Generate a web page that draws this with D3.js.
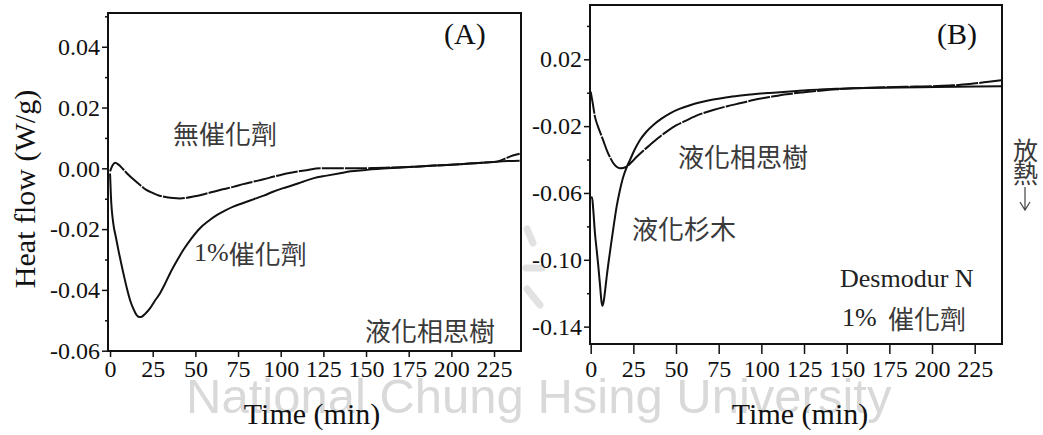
<!DOCTYPE html>
<html>
<head>
<meta charset="utf-8" />
<title>Heat flow</title>
<script src="https://cdn.jsdelivr.net/npm/d3@7"></script>
<style>
    body { margin: 0; background: #fff; overflow: hidden; }
    .serif { font-family: "Liberation Serif", "Times New Roman", serif; fill: #111; }
    .cjk { font-family: "Noto Sans CJK TC", "Noto Sans CJK SC", sans-serif; fill: #3a3a3a; }
</style>
</head>
<body>
<div id="chart"></div>
<script>
    // 時間刻度 (min)
    var timeTicks = [0, 25, 50, 75, 100, 125, 150, 175, 200, 225];

    // (A) 刻度
    var yTicksA = [-0.06, -0.04, -0.02, 0.00, 0.02, 0.04];
    var yLabelsA = ["-0.06", "-0.04", "-0.02", "0.00", "0.02", "0.04"];
    var yMinorA = [-0.05, -0.03, -0.01, 0.01, 0.03, 0.05];

    // (B) 刻度
    var yTicksB = [-0.14, -0.10, -0.06, -0.02, 0.02];
    var yLabelsB = ["-0.14", "-0.10", "-0.06", "-0.02", "0.02"];
    var yMinorB = [-0.12, -0.08, -0.04, 0.00, 0.04];

    // (A) 無催化劑  [time, heat flow]
    var noCatalystA = [[0, -0.001], [1.5, 0.001], [3, 0.0018], [5, 0.0012], [7.5, -0.0002], [10, -0.0017],
        [14, -0.0038], [17.6, -0.0055], [21, -0.007], [25.4, -0.0082], [29, -0.009], [33.2, -0.0095],
        [37, -0.0098], [41, -0.0099], [45, -0.0097], [48.8, -0.0093], [55, -0.0085], [60.5, -0.0077],
        [66, -0.0069], [72.2, -0.0061], [78, -0.0052], [84, -0.0044], [90, -0.0036], [95.5, -0.0028],
        [101, -0.002], [107.4, -0.0013], [115, -0.0006], [123, 0.0], [133, 0.0], [144.5, 0.0],
        [155, 0.0001], [165, 0.0003], [177.7, 0.0005], [190, 0.0009], [207, 0.0014], [218, 0.0018],
        [226.6, 0.0022], [232, 0.0033], [236, 0.0042], [240, 0.0048]];

    // (A) 1%催化劑
    var catalystA = [[0, -0.0017], [0.5, -0.009], [1.9, -0.0181], [3.4, -0.0226], [4.9, -0.0269],
        [7.8, -0.0345], [10, -0.0398], [11.7, -0.0433], [13.5, -0.046], [15.6, -0.0483], [17, -0.0489],
        [18.6, -0.0488], [20.5, -0.0479], [23.4, -0.0461], [26, -0.0438], [29.3, -0.0411], [32, -0.0382],
        [35.2, -0.0345], [39, -0.0306], [42.9, -0.0269], [47.5, -0.0232], [52.7, -0.0197], [57.5, -0.0174],
        [62.5, -0.0154], [67, -0.014], [72.2, -0.0126], [78, -0.0114], [84, -0.0102], [90, -0.009],
        [95.5, -0.0077], [101, -0.0066], [107.4, -0.0055], [113, -0.0044], [119, -0.0033], [127, -0.0024],
        [134.8, -0.0016], [141, -0.001], [148.4, -0.0006], [160, -0.0001], [177.7, 0.0005], [190, 0.0009],
        [207, 0.0014], [218, 0.0018], [226.6, 0.0022], [233, 0.0024], [240, 0.0025]];

    // (B) 液化相思樹
    var acaciaB = [[0, 0.0006], [1, -0.005], [2.5, -0.0143], [4, -0.0195], [5.4, -0.0233], [7.5, -0.029],
        [9.4, -0.0343], [11.5, -0.039], [13.3, -0.0422], [15.2, -0.0443], [17.2, -0.0452], [19, -0.0451],
        [21, -0.0443], [24, -0.0415], [27, -0.0383], [30.5, -0.035], [34.7, -0.0313], [39.5, -0.0271],
        [44.5, -0.0233], [50, -0.0196], [56.2, -0.0165], [63, -0.0133], [71.8, -0.0103], [80, -0.0081],
        [88, -0.0062], [95.3, -0.0044], [105, -0.0026], [114.8, -0.0009], [124, 0.0002], [134.4, 0.0012],
        [144, 0.002], [153.9, 0.0026], [163, 0.003], [173.4, 0.0033], [190, 0.0037], [202.7, 0.004],
        [212, 0.0044], [222, 0.0052], [232, 0.0064], [241, 0.0076]];

    // (B) 液化杉木
    var firB = [[0, -0.063], [0.8, -0.0625], [1.5, -0.07], [2.5, -0.0841], [3.5, -0.094], [4.5, -0.1041],
        [5.5, -0.1155], [6.4, -0.1255], [6.9, -0.1275], [7.6, -0.125], [8.5, -0.118], [9.4, -0.11],
        [10.8, -0.099], [12.3, -0.0881], [13.8, -0.0775], [15.2, -0.0682], [17, -0.059], [19.1, -0.0503],
        [21, -0.0448], [23, -0.0403], [25.8, -0.034], [28.9, -0.0283], [32.5, -0.0235], [36.7, -0.0193],
        [41.5, -0.0155], [46.5, -0.0123], [52, -0.0097], [58.2, -0.0075], [65, -0.0056], [71.8, -0.0041],
        [80, -0.0027], [88, -0.0017], [95.3, -0.0009], [105, -0.0001], [114.8, 0.0006], [124, 0.0013],
        [134.4, 0.002], [144, 0.0023], [153.9, 0.0026], [170, 0.003], [193, 0.0033], [215, 0.0036],
        [241, 0.0039]];

    var W = 1043, H = 435;
    var SERIF = "'Liberation Serif', 'Times New Roman', serif";
    var svg = d3.select("#chart").append("svg")
        .attr("width", W).attr("height", H);

    // 浮水印 (畫在最底層)
    svg.append("text")
        .attr("x", 186).attr("y", 413)
        .style("font-family", "'Liberation Sans', Arial, sans-serif")
        .style("font-size", "49px")
        .style("fill", "#d9d9d9")
        .text("National Chung Hsing University");
    var mark = svg.append("g").attr("stroke", "#e2e2e2").attr("stroke-width", 7)
        .attr("stroke-linecap", "round").attr("fill", "none");
    mark.append("path").attr("d", "M527,229 L533,243");
    mark.append("path").attr("d", "M526,268 L542,268");
    mark.append("path").attr("d", "M527,289 L540,305");

    // 單一面板
    function drawPanel(p)
    {
        var x = d3.scaleLinear().domain(p.xDomain).range([p.left, p.right]);
        var y = d3.scaleLinear().domain(p.yDomain).range([p.bottom, p.top]);
        var g = svg.append("g");

        // x 軸
        g.append("g")
            .attr("transform", "translate(0," + p.bottom + ")")
            .call(d3.axisBottom(x).tickValues(timeTicks).tickSize(p.xTick).tickPadding(p.xPad).tickSizeOuter(0));
        // y 軸
        g.append("g")
            .attr("transform", "translate(" + p.left + ",0)")
            .call(d3.axisLeft(y).tickValues(p.yTicks).tickSize(6).tickPadding(2).tickSizeOuter(0)
                .tickFormat(function (d, i) { return p.yLabels[i]; }));
        // 小刻度
        g.append("g")
            .attr("transform", "translate(" + p.left + ",0)")
            .call(d3.axisLeft(y).tickValues(p.yMinor).tickSize(3).tickFormat(""));

        g.selectAll(".domain").remove();
        g.selectAll(".tick line").attr("stroke", "#111").attr("stroke-width", 1.5);
        g.selectAll(".tick text")
            .style("font-family", SERIF)
            .style("font-size", "24px")
            .style("fill", "#111");

        // 外框
        g.append("rect")
            .attr("x", p.left).attr("y", p.top)
            .attr("width", p.right - p.left).attr("height", p.bottom - p.top)
            .attr("fill", "none").attr("stroke", "#111").attr("stroke-width", 2);

        var line = d3.line()
            .x(function (d) { return x(d[0]); })
            .y(function (d) { return y(d[1]); })
            .curve(d3.curveMonotoneX);

        p.series.forEach(function (s)
        {
            g.append("path")
                .datum(s.data)
                .attr("d", line)
                .attr("fill", "none")
                .attr("stroke", "#111")
                .attr("stroke-width", 2)
                .attr("stroke-dasharray", s.dash || null);
        });

        // x 軸標題
        g.append("text")
            .attr("class", "serif")
            .attr("x", p.titleX).attr("y", 424)
            .attr("text-anchor", "middle")
            .style("font-size", "30px")
            .text("Time (min)");

        // 面板代號
        g.append("text")
            .attr("class", "serif")
            .attr("x", p.tagX).attr("y", 44)
            .style("font-size", "30px")
            .text(p.tag);
        return g;
    }

    var gA = drawPanel({
        left: 108, right: 521, top: 13, bottom: 351,
        xDomain: [-1.2, 240.8], yDomain: [-0.0601, 0.0511],
        yTicks: yTicksA, yLabels: yLabelsA, yMinor: yMinorA,
        xTick: 6, xPad: 3, titleX: 312, tag: "(A)", tagX: 444,
        series: [{ data: noCatalystA, dash: "22,1.2" }, { data: catalystA }]
    });

    var gB = drawPanel({
        left: 590, right: 1002, top: 5, bottom: 344,
        xDomain: [-0.4, 241], yDomain: [-0.1504, 0.0525],
        yTicks: yTicksB, yLabels: yLabelsB, yMinor: yMinorB,
        xTick: 10, xPad: 6, titleX: 800, tag: "(B)", tagX: 937,
        series: [{ data: acaciaB, dash: "22,1.2" }, { data: firB }]
    });

    // y 軸標題
    svg.append("text")
        .attr("class", "serif")
        .attr("transform", "translate(35,189) rotate(-90)")
        .attr("text-anchor", "middle")
        .style("font-size", "30px")
        .text("Heat flow (W/g)");

    // 標註文字
    function cjk(txt, x0, y0)
    {
        return svg.append("text")
            .attr("class", "cjk")
            .attr("x", x0).attr("y", y0)
            .attr("dominant-baseline", "central")
            .style("font-size", "26px")
            .text(txt);
    }
    cjk("無催化劑", 173, 132);
    cjk("液化相思樹", 365, 329);
    cjk("液化相思樹", 678, 155);
    cjk("液化杉木", 632, 227);

    // 1%催化劑 (A)
    var t1 = svg.append("text").attr("x", 194).attr("y", 252)
        .attr("dominant-baseline", "central").style("font-size", "26px");
    t1.append("tspan").attr("class", "serif").style("fill", "#333").text("1%");
    t1.append("tspan").attr("class", "cjk").text("催化劑");

    // (B) 條件
    svg.append("text")
        .attr("class", "serif")
        .attr("x", 840).attr("y", 287)
        .style("font-size", "26px")
        .style("fill", "#222")
        .text("Desmodur N");
    svg.append("text")
        .attr("class", "serif")
        .attr("x", 842).attr("y", 317)
        .attr("dominant-baseline", "central")
        .style("font-size", "26px")
        .style("fill", "#222")
        .text("1%");
    cjk("催化劑", 888, 317);

    // 放熱 ↓
    cjk("放", 1013, 149).style("font-size", "25px");
    cjk("熱", 1013, 172).style("font-size", "25px");
    svg.append("path")
        .attr("d", "M1025,187 L1025,210 M1020,202 L1025,210 L1030,202")
        .attr("fill", "none").attr("stroke", "#444").attr("stroke-width", 1.2);
</script>
</body>
</html>
